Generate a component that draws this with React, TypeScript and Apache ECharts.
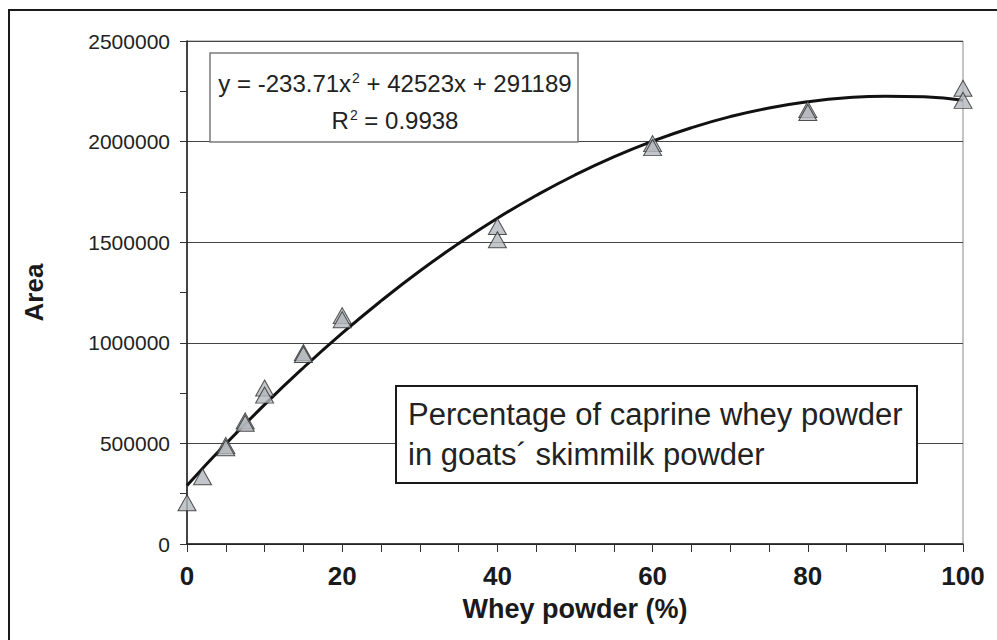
import React, { useEffect, useRef } from "react";
import * as echarts from "echarts";

const FONT = "'Liberation Sans', Arial, Helvetica, sans-serif";

// Measured points: [whey powder %, area]
const xValues = [0, 2, 5, 5, 7.5, 7.5, 10, 10, 15, 15, 20, 20, 40, 40, 60, 60, 80, 80, 100, 100];
const areaValues = [
  205000, 334000, 490000, 478000, 612000, 600000, 775000, 740000, 952000, 942000,
  1135000, 1115000, 1578000, 1512000, 1990000, 1970000, 2160000, 2145000, 2265000, 2205000,
];

// Trend line
const trendX = [0, 5, 10, 15, 20, 25, 30, 35, 40, 45, 50, 55, 60, 65, 70, 75, 80, 85, 90, 95, 100];
const trendY = [
  291000, 498000, 693000, 876000, 1048000, 1208000, 1357000, 1493000, 1619000, 1732000,
  1834000, 1924000, 2002000, 2069000, 2124000, 2167000, 2198000, 2218000, 2226000, 2223000, 2206000,
];

const equationLine = "y = -233.71x{sup|2} + 42523x + 291189";
const r2Line = "R{sup|2} = 0.9938";
const noteLines = ["Percentage of caprine whey powder", "in goats´ skimmilk powder"];
const xAxisTitle = "Whey powder (%)";
const yAxisTitle = "Area";

export default function App() {
  const ref = useRef<HTMLDivElement>(null);

  useEffect(() => {
    if (!ref.current) return;
    const chart = echarts.init(ref.current, undefined, { renderer: "svg" });
    const points = xValues.map((x, i) => [x, areaValues[i]]);
    const trend = trendX.map((x, i) => [x, trendY[i]]);
    const supRich = {
      sup: { fontSize: 14, fontFamily: FONT, color: "#222", verticalAlign: "top", padding: [0, 0, 8, 1] },
    };

    chart.setOption({
      animation: false,
      backgroundColor: "#ffffff",
      grid: {
        left: 187,
        right: 34,
        top: 41,
        bottom: 96,
        show: true,
        borderColor: "#8a8a8a",
        borderWidth: 1,
        backgroundColor: "transparent",
      },
      xAxis: {
        type: "value",
        min: 0,
        max: 100,
        interval: 20,
        name: xAxisTitle,
        nameLocation: "middle",
        nameGap: 51,
        nameTextStyle: { fontFamily: FONT, fontWeight: "bold", fontSize: 27, color: "#1a1a1a" },
        axisLine: { show: true, onZero: false, lineStyle: { color: "#1a1a1a", width: 1.5 } },
        axisTick: { show: true, length: 8, lineStyle: { color: "#333", width: 1 } },
        minorTick: { show: true, splitNumber: 4, length: 8, lineStyle: { color: "#333", width: 1 } },
        axisLabel: { fontFamily: FONT, fontWeight: "bold", fontSize: 26, color: "#1a1a1a", margin: 19 },
        splitLine: { show: false },
      },
      yAxis: {
        type: "value",
        min: 0,
        max: 2500000,
        interval: 500000,
        name: yAxisTitle,
        nameLocation: "middle",
        nameRotate: 90,
        nameGap: 140,
        nameTextStyle: { fontFamily: FONT, fontWeight: "bold", fontSize: 26, color: "#1a1a1a" },
        axisLine: { show: true, lineStyle: { color: "#1a1a1a", width: 1.5 } },
        axisTick: { show: true, length: 7, lineStyle: { color: "#333", width: 1 } },
        minorTick: { show: true, splitNumber: 2, length: 7, lineStyle: { color: "#333", width: 1 } },
        axisLabel: {
          fontFamily: FONT,
          fontSize: 21,
          color: "#222",
          margin: 17,
          formatter: (v: number) => String(v),
        },
        splitLine: { show: true, lineStyle: { color: "#444", width: 1 } },
      },
      series: [
        {
          type: "line",
          data: trend,
          smooth: true,
          showSymbol: false,
          symbol: "none",
          lineStyle: { color: "#111", width: 3 },
          z: 3,
        },
        {
          type: "scatter",
          data: points,
          symbol: "triangle",
          symbolSize: [18, 16],
          itemStyle: { color: "#b3b7bc", borderColor: "#2a2a2a", borderWidth: 1 },
          z: 4,
        },
      ],
      graphic: [
        {
          type: "rect",
          shape: { x: 9, y: 10, width: 1000, height: 650 },
          style: { fill: "none", stroke: "#1a1a1a", lineWidth: 2 },
          silent: true,
          z: 10,
        },
        {
          type: "rect",
          shape: { x: 210, y: 53, width: 368, height: 89 },
          style: { fill: "#ffffff", stroke: "#7a7a7a", lineWidth: 1.5 },
          z: 5,
        },
        {
          type: "text",
          x: 395,
          y: 83,
          style: {
            text: equationLine,
            rich: supRich,
            fontFamily: FONT,
            fontSize: 24,
            fill: "#222",
            align: "center",
            verticalAlign: "middle",
          },
          z: 6,
        },
        {
          type: "text",
          x: 395,
          y: 120,
          style: {
            text: r2Line,
            rich: supRich,
            fontFamily: FONT,
            fontSize: 24,
            fill: "#222",
            align: "center",
            verticalAlign: "middle",
          },
          z: 6,
        },
        {
          type: "rect",
          shape: { x: 396, y: 386, width: 521, height: 97 },
          style: { fill: "#ffffff", stroke: "#1a1a1a", lineWidth: 2 },
          z: 5,
        },
        {
          type: "text",
          x: 408,
          y: 414,
          style: {
            text: noteLines[0],
            fontFamily: FONT,
            fontSize: 31,
            fill: "#222",
            align: "left",
            verticalAlign: "middle",
          },
          z: 6,
        },
        {
          type: "text",
          x: 408,
          y: 454,
          style: {
            text: noteLines[1],
            fontFamily: FONT,
            fontSize: 31,
            fill: "#222",
            align: "left",
            verticalAlign: "middle",
          },
          z: 6,
        },
      ],
    });

    return () => chart.dispose();
  }, []);

  return (
    <div
      ref={ref}
      style={{ position: "absolute", left: 0, top: 0, width: 997, height: 640, background: "#fff" }}
    />
  );
}
